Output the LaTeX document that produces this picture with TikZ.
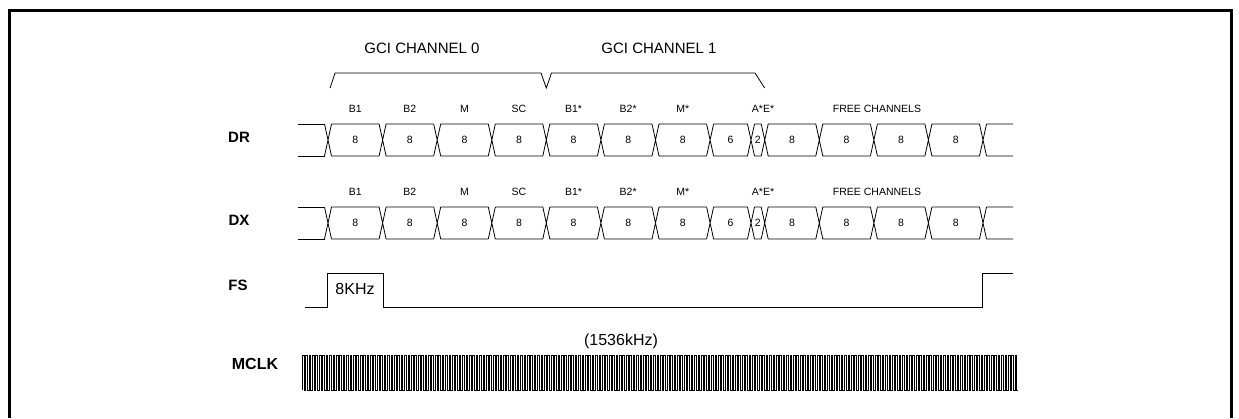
\documentclass[tikz,border=0pt]{standalone}
\usepackage{fontspec}
\setmainfont{Liberation Sans}

\begin{document}
\begin{tikzpicture}[x=1pt,y=-1pt,line width=0.8pt,
	sig/.style={font=\bfseries\fontsize{15}{18}\selectfont,inner sep=0pt},
	slot/.style={font=\fontsize{10.5}{12}\selectfont,inner sep=0pt},
	big/.style={font=\fontsize{15}{18}\selectfont,inner sep=0pt}]
	\useasboundingbox (0,0) rectangle (1239,418);
	\draw[line width=3pt] (9.5,418) -- (9.5,10.5) -- (1231.5,10.5) -- (1231.5,418); % khung
	% ten kenh va ngoac
	\node[big] (gci0) at (422,48) {GCI CHANNEL 0};
	\node[big] (gci1) at (659,48) {GCI CHANNEL 1};
	\draw (330,88) -- (335,73) -- (541,73) -- (546.3,88) -- (551.5,73) -- (755,73) -- (764.7,88);
	% hai duong DR, DX
	\foreach \rw/\yt in {DR/124,DX/207}{
		\pgfmathsetmacro\yb{\yt+32}
		\pgfmathsetmacro\yc{\yt+16}
		\node[sig] (\rw) at (239,\yc-3) {\rw};
		\draw (298,\yt) -- (324.5,\yt) (298,\yb) -- (324.5,\yb); % doan dau
		\foreach \xa/\xb/\val [count=\i] in {328/382.6/8,382.6/437.2/8,437.2/491.8/8,491.8/546.3/8,546.3/600.9/8,600.9/655.5/8,655.5/710.1/8,710.1/751/6,751/764.7/2,764.7/819.3/8,819.3/873.9/8,873.9/928.4/8,928.4/983/8}{
			\draw (\xa-3.5,\yt) -- (\xa+3.5,\yb) (\xa-3.5,\yb) -- (\xa+3.5,\yt)
				(\xa+3.5,\yt) -- (\xb-3.5,\yt) (\xa+3.5,\yb) -- (\xb-3.5,\yb);
			\node[slot] (\rw-s\i) at ({(\xa+\xb)/2},\yc) {\val};
		}
		\draw (979.5,\yt) -- (986.5,\yb) (979.5,\yb) -- (986.5,\yt)
			(986.5,\yt) -- (1013,\yt) (986.5,\yb) -- (1013,\yb); % doan cuoi
		\foreach \lab/\x [count=\j] in {B1/355.3,B2/409.9,M/464.5,SC/519,B1*/573.6,B2*/628.2,M*/682.8,A*E*/763,FREE CHANNELS/877}
			\node[slot] (\rw-l\j) at (\x,\yt-15) {\lab};
	}
	% FS
	\node[sig] (fs) at (238,285) {FS};
	\draw (305,307) -- (327,307) -- (327,273) -- (383,273) -- (383,307) -- (982,307) -- (982,273) -- (1013,273);
	\node[big,font=\fontsize{16}{18}\selectfont] (fsrate) at (355,289) {8KHz};
	% MCLK
	\node[sig,font=\bfseries\fontsize{16}{18}\selectfont] (mclk) at (255,364) {MCLK};
	\node[big,font=\fontsize{16}{18}\selectfont] (mrate) at (621,341) {(1536kHz)};
	\draw[line width=0.35pt] (302,390) \foreach \i in {1,...,210}{ -- ++(0,-35) -- ++(1.7055,0) -- ++(0,35) -- ++(1.7055,0)};
\end{tikzpicture}
\end{document}
